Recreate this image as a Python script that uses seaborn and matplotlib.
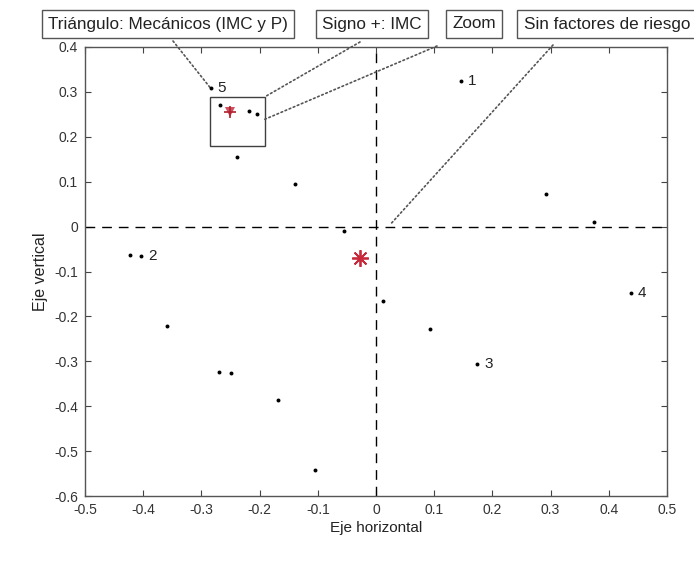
import matplotlib
matplotlib.use("Agg")
import matplotlib.pyplot as plt
import seaborn as sns
import pandas as pd
from matplotlib.patches import Rectangle

# Coordinates of each case on the two factor axes
pts_x = [0.146, -0.284, -0.239, -0.140, 0.292, 0.375, -0.055, -0.423, -0.404,
         0.438, 0.012, -0.359, 0.092, -0.269, -0.250, 0.174, -0.169, -0.105,
         -0.219, -0.205, -0.268]
pts_y = [0.325, 0.308, 0.155, 0.094, 0.072, 0.010, -0.009, -0.063, -0.065,
         -0.148, -0.165, -0.221, -0.229, -0.324, -0.325, -0.306, -0.386, -0.541,
         0.258, 0.251, 0.270]

# Numbered cases
label_text = ["1", "2", "3", "4", "5"]
label_x = [0.146, -0.404, 0.174, 0.438, -0.284]
label_y = [0.325, -0.065, -0.306, -0.148, 0.308]

# Centroid (red asterisk) and the highlighted group inside the zoom box
centroid = (-0.0275, -0.070)
group_mark = (-0.251, 0.255)
zoom_box_x = [-0.286, -0.191]
zoom_box_y = [0.180, 0.289]

x_ticks = [-0.5, -0.4, -0.3, -0.2, -0.1, 0, 0.1, 0.2, 0.3, 0.4, 0.5]
y_ticks = [0.4, 0.3, 0.2, 0.1, 0, -0.1, -0.2, -0.3, -0.4, -0.5, -0.6]

sns.set_style("white")
plt.rcParams["font.family"] = ["Liberation Sans", "DejaVu Sans"]

fig = plt.figure(figsize=(6.94, 5.65), dpi=100)
ax = fig.add_axes([85 / 694, 1 - 496 / 565, (667 - 85) / 694, (496 - 47) / 565])

df = pd.DataFrame({"x": pts_x, "y": pts_y})
sns.scatterplot(data=df, x="x", y="y", ax=ax, color="black", s=8,
                linewidth=0, zorder=4)

# Reference axes through the origin
ax.axhline(0, color="black", linestyle=(0, (7, 5)), linewidth=1.0, zorder=2)
ax.axvline(0, color="black", linestyle=(0, (7, 5)), linewidth=1.0, zorder=2)

# Centroid
ax.plot(*centroid, marker=(8, 2, 0), markersize=12, color="#c8283c",
        markeredgewidth=1.3, zorder=5)

# Highlighted group: red triangle with plus sign
ax.plot(*group_mark, marker="v", markersize=7, color="#d0505f",
        markeredgewidth=0, zorder=5)
ax.plot(*group_mark, marker="+", markersize=9, color="#b02030",
        markeredgewidth=1.2, zorder=6)
ax.add_patch(Rectangle((zoom_box_x[0], zoom_box_y[0]),
                       zoom_box_x[1] - zoom_box_x[0], zoom_box_y[1] - zoom_box_y[0],
                       fill=False, edgecolor="#404040", linewidth=1.0, zorder=3))

for t, lx, ly in zip(label_text, label_x, label_y):
    ax.annotate(t, (lx, ly), xytext=(5, 0), textcoords="offset points",
                ha="left", va="center", fontsize=11, color="#222222")

ax.set_xlim(-0.5, 0.5)
ax.set_ylim(-0.6, 0.4)
ax.set_xticks(x_ticks)
ax.set_xticklabels([f"{v:g}" for v in x_ticks])
ax.set_yticks(y_ticks)
ax.set_yticklabels([f"{v:g}" for v in y_ticks])
ax.tick_params(direction="in", length=4, width=0.8, color="#444444",
               labelsize=10, labelcolor="#333333", top=True, right=True,
               bottom=True, left=True, pad=5)
for sp in ax.spines.values():
    sp.set_color("#555555")
    sp.set_linewidth(1.0)
ax.set_xlabel("Eje horizontal", fontsize=11, color="#222222", labelpad=3)
ax.set_ylabel("Eje vertical", fontsize=11.5, color="#222222", labelpad=4)

# Text boxes along the top, each connected to its target by a dotted line
W, H = 694, 565
boxes = [
    ("Triángulo: Mecánicos (IMC y P)", 168, (173, 41), (-0.284, 0.308)),
    ("Signo +: IMC", 372, (360, 42), (-0.191, 0.289)),
    ("Zoom", 474, (437, 46), (-0.191, 0.239)),
    ("Sin factores de riesgo", 607, (553, 45), (0.024, 0.004)),
]
for text, cx, start, target in boxes:
    fig.text(cx / W, 1 - 24 / H, text, ha="center", va="center", fontsize=12.3,
             color="#222222",
             bbox=dict(boxstyle="square,pad=0.38", facecolor="white",
                       edgecolor="#555555", linewidth=1.0))
    ax.annotate("", xy=target, xycoords="data",
                xytext=(start[0] / W, 1 - start[1] / H), textcoords="figure fraction",
                arrowprops=dict(arrowstyle="-", linestyle=":", color="#555555",
                                linewidth=1.2, shrinkA=0, shrinkB=0),
                annotation_clip=False)

fig.savefig("out.png", dpi=100)
